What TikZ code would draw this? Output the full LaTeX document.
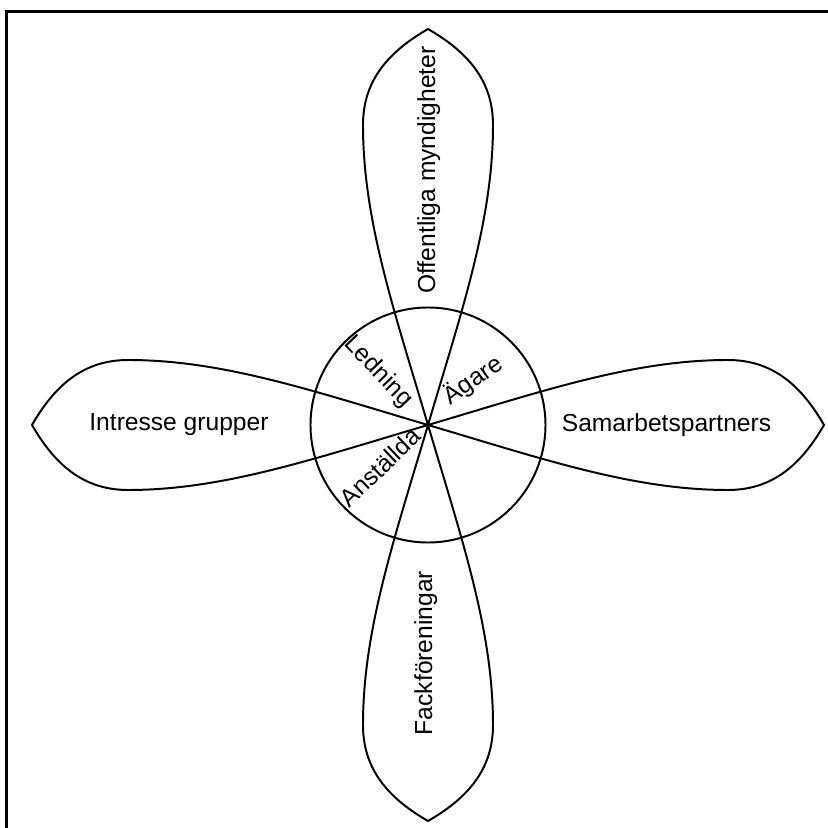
\documentclass[tikz,border=0pt]{standalone}
\usepackage{fontspec}
\setmainfont{Liberation Sans}
\begin{document}
\begin{tikzpicture}[x=0.025cm, y=0.025cm]
	\tikzset{party/.style = {font=\fontsize{17.5}{21}\selectfont, inner sep=0pt},
	petal/.pic = {\draw[line width=1.4pt, line join=round] (0,0)
		.. controls (115,34) and (205,65) .. (300,65)
		.. controls (345,65) and (373.5,39) .. (396,0)
		.. controls (373.5,-39) and (345,-65) .. (300,-65)
		.. controls (205,-65) and (115,-34) .. (0,0);}}
	
	\useasboundingbox (-428,-403) rectangle (400,425);
	\clip (-428,-403) rectangle (400,425);
	\draw[line width=2.1pt] (-421.5,-450) rectangle (450,413.5);
	
	\coordinate (c) at (0,0);
	\draw[line width=1.4pt] (c) circle (117.5);
	
	\pic at (c) {petal};
	\pic[rotate=90] at (c) {petal};
	\pic[rotate=180] at (c) {petal};
	\pic[rotate=270] at (c) {petal};
	
	\node[party, anchor=base] (intresse) at (-249,-6) {Intresse grupper};
	\node[party, anchor=base] (samarbete) at (238.5,-7) {Samarbetspartners};
	\node[party, anchor=base, rotate=90] (myndighet) at (7,255)
	{Offentliga myndigheter};
	\node[party, anchor=base, rotate=90] (fack) at (4,-228) {Fackföreningar};
	
	\node[party, rotate=-46] (ledning) at (-50,53) {Ledning};
	\node[party, rotate=35] (agare) at (45,45) {Ägare};
	\node[party, rotate=43.5] (anstallda) at (-48,-42) {Anställda};
\end{tikzpicture}
\end{document}
